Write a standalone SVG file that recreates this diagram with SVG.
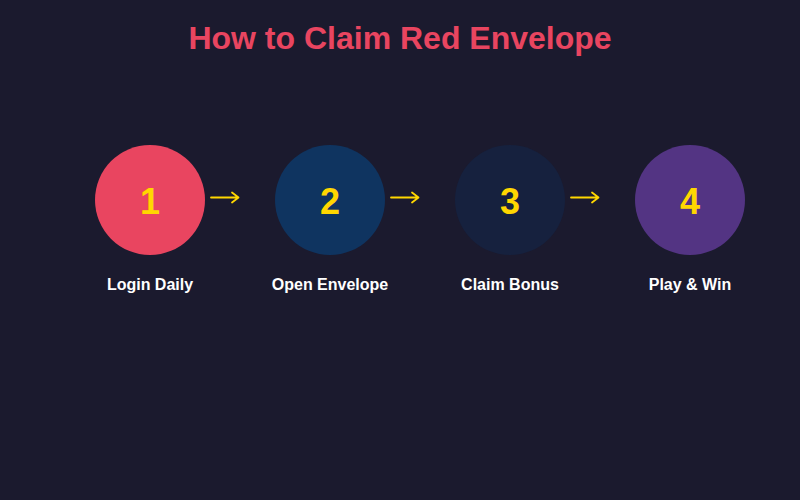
<svg xmlns="http://www.w3.org/2000/svg" width="800" height="500" viewBox="0 0 800 500">
<style>
.title{font-family:"Liberation Sans",Arial,sans-serif;font-weight:bold;font-size:32px;fill:#e94560;text-anchor:middle}
.num{font-family:"Liberation Sans",Arial,sans-serif;font-weight:bold;font-size:36px;fill:#ffd700;text-anchor:middle}
.lbl{font-family:"Liberation Sans",Arial,sans-serif;font-weight:bold;font-size:16px;fill:#ffffff;text-anchor:middle}
.arr{fill:none;stroke:#ffd700;stroke-width:1.8;stroke-linecap:round;stroke-linejoin:round}
</style>
<rect width="800" height="500" fill="#1b1a2e"/>
<text class="title" x="400" y="49">How to Claim Red Envelope</text>
<g id="connectors">
<path class="arr" d="M211 197.5H238M232 192.5L238.5 197.5L232 202.5"/>
<path class="arr" d="M391 197.5H418M412 192.5L418.5 197.5L412 202.5"/>
<path class="arr" d="M571 197.5H598M592 192.5L598.5 197.5L592 202.5"/>
</g>
<g id="step1"><circle cx="150" cy="200" r="55" fill="#e94560"/><text class="num" x="150" y="214">1</text><text class="lbl" x="150" y="290">Login Daily</text></g>
<g id="step2"><circle cx="330" cy="200" r="55" fill="#0f3460"/><text class="num" x="330" y="214">2</text><text class="lbl" x="330" y="290">Open Envelope</text></g>
<g id="step3"><circle cx="510" cy="200" r="55" fill="#16213e"/><text class="num" x="510" y="214">3</text><text class="lbl" x="510" y="290">Claim Bonus</text></g>
<g id="step4"><circle cx="690" cy="200" r="55" fill="#533483"/><text class="num" x="690" y="214">4</text><text class="lbl" x="690" y="290">Play &amp; Win</text></g>
</svg>
